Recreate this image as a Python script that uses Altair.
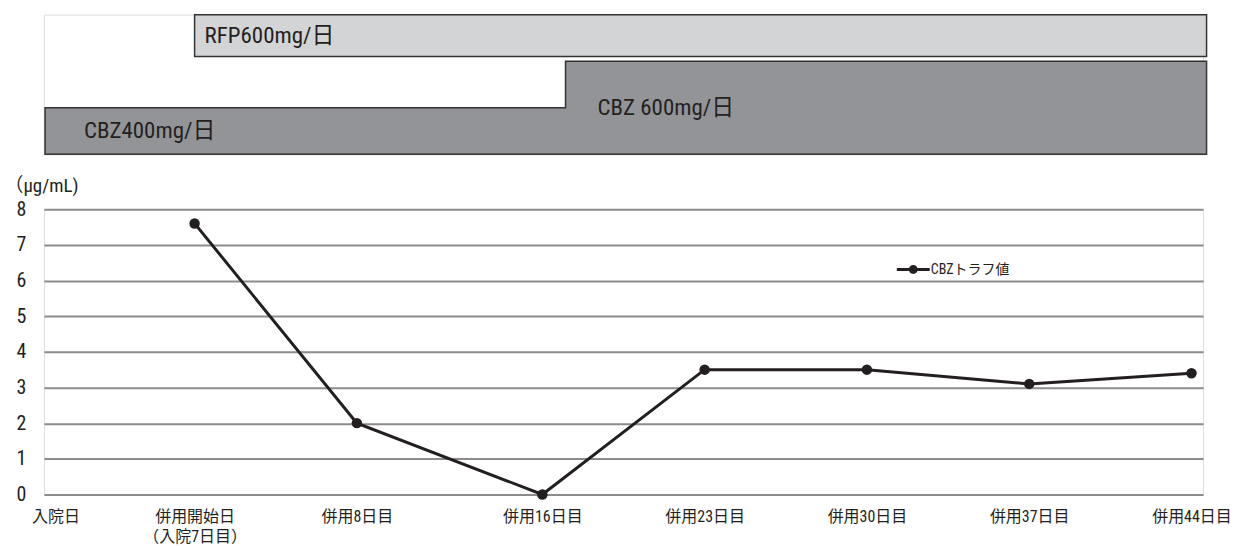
import json
import altair as alt
import pandas as pd

# Timeline: admission-day numbers and the labels shown under them
days = [1, 7, 14, 22, 29, 36, 43, 50]
day_labels = [
    ["入院日"],
    ["併用開始日", "（入院7日目）"],
    ["併用8日目"],
    ["併用16日目"],
    ["併用23日目"],
    ["併用30日目"],
    ["併用37日目"],
    ["併用44日目"],
]

# CBZ trough concentrations (μg/mL)
trough_days = [7, 14, 22, 29, 36, 43, 50]
trough_values = [7.6, 2.0, 0.0, 3.5, 3.5, 3.1, 3.4]
series_name = "CBZトラフ値"

# Dosing regimen (day ranges; CBZ steps up from 400 to 600 mg/day)
rfp_label = "RFP600mg/日"
rfp_start, rfp_end = 7, 50.65
cbz_labels = ["CBZ400mg/日", "CBZ 600mg/日"]
cbz_change_day = 23
regimen_start, regimen_end = 0.55, 50.65

FONT = "Roboto Condensed, DejaVu Sans Condensed, Noto Sans CJK JP, sans-serif"
INK = "#231f20"
X_DOMAIN = [0.5, 50.5]
PLOT_W = 1162

x_scale = alt.Scale(domain=X_DOMAIN, nice=False, zero=False)

# ---- dosing bars -------------------------------------------------------
lane_scale = alt.Scale(domain=[0, 3], nice=False)

cbz_df = pd.DataFrame({
    "day": [regimen_start, cbz_change_day, regimen_end],
    "level": [1, 2, 2],
})
cbz_area = alt.Chart(cbz_df).mark_area(
    interpolate="step-after", fill="#939498", stroke="#333333", strokeWidth=1.5
).encode(
    x=alt.X("day:Q", scale=x_scale, axis=None),
    y=alt.Y("level:Q", scale=lane_scale, axis=None),
)

rfp_df = pd.DataFrame({"start": [rfp_start], "end": [rfp_end], "lo": [2.1], "hi": [3.0]})
rfp_rect = alt.Chart(rfp_df).mark_rect(
    fill="#d3d4d6", stroke="#333333", strokeWidth=1.5
).encode(
    x=alt.X("start:Q", scale=x_scale, axis=None),
    x2="end:Q",
    y=alt.Y("lo:Q", scale=lane_scale, axis=None),
    y2="hi:Q",
)

def box_text(day, level, text, dx):
    df = pd.DataFrame({"day": [day], "level": [level], "text": [text]})
    return alt.Chart(df).mark_text(
        align="left", baseline="middle", dx=dx, font=FONT, fontSize=23, color=INK
    ).encode(
        x=alt.X("day:Q", scale=x_scale, axis=None),
        y=alt.Y("level:Q", scale=lane_scale, axis=None),
        text="text:N",
    )

dosing = alt.layer(
    cbz_area,
    rfp_rect,
    box_text(rfp_start, 2.55, rfp_label, 10),
    box_text(regimen_start, 0.5, cbz_labels[0], 39),
    box_text(cbz_change_day, 1.0, cbz_labels[1], 32),
).properties(width=PLOT_W, height=140)

# ---- concentration chart ----------------------------------------------
label_expr = (
    f"{json.dumps(day_labels, ensure_ascii=False)}"
    f"[indexof({json.dumps(days)}, datum.value)]"
)

conc_df = pd.DataFrame({
    "day": trough_days,
    "value": trough_values,
    "series": [series_name] * len(trough_days),
})

x_enc = alt.X(
    "day:Q",
    scale=x_scale,
    axis=alt.Axis(
        values=days, labelExpr=label_expr, grid=False, ticks=False, domain=False,
        labelPadding=14, labelFont=FONT, labelFontSize=16, labelColor=INK,
        labelBaseline="top", labelLineHeight=20, labelOverlap=False,
        labelFlush=False, labelBound=False, title=None,
    ),
)
y_enc = alt.Y(
    "value:Q",
    scale=alt.Scale(domain=[0, 8], nice=False),
    axis=alt.Axis(
        values=list(range(0, 9)), grid=True, gridColor="#8c8c8c", gridWidth=2,
        domain=False, ticks=False, labelPadding=18, labelFont=FONT,
        labelFontSize=20, labelColor=INK,
        title="（μg/mL)", titleAngle=0, titleAlign="left", titleBaseline="middle",
        titleX=-40, titleY=-24, titleFont=FONT, titleFontSize=19,
        titleFontWeight="normal", titleColor=INK,
    ),
)

legend_symbol = (
    "M-1,-0.09 L1,-0.09 L1,0.09 L-1,0.09 Z "
    "M-0.27,0 A0.27,0.27 0 1,1 0.27,0 A0.27,0.27 0 1,1 -0.27,0 Z"
)

line = alt.Chart(conc_df).mark_line(color=INK, strokeWidth=3).encode(x=x_enc, y=y_enc)
points = alt.Chart(conc_df).mark_circle(size=110, opacity=1).encode(
    x=x_enc,
    y=y_enc,
    color=alt.Color(
        "series:N",
        scale=alt.Scale(domain=[series_name], range=[INK]),
        legend=alt.Legend(
            title=None, orient="none", legendX=855, legendY=239,
            symbolType=legend_symbol, symbolSize=1089, symbolFillColor=INK,
            symbolStrokeWidth=0, labelFont=FONT, labelFontSize=14,
            labelColor=INK, labelOffset=1,
        ),
    ),
)

concentration = alt.layer(line, points).properties(width=PLOT_W, height=286)

chart = alt.vconcat(dosing, concentration, spacing=17).properties(
    padding={"left": 3, "top": 12, "right": 5, "bottom": 5}
).configure_view(stroke=None).configure(background="white")

chart.save("out.html", embed_options={"renderer": "svg", "actions": False})
